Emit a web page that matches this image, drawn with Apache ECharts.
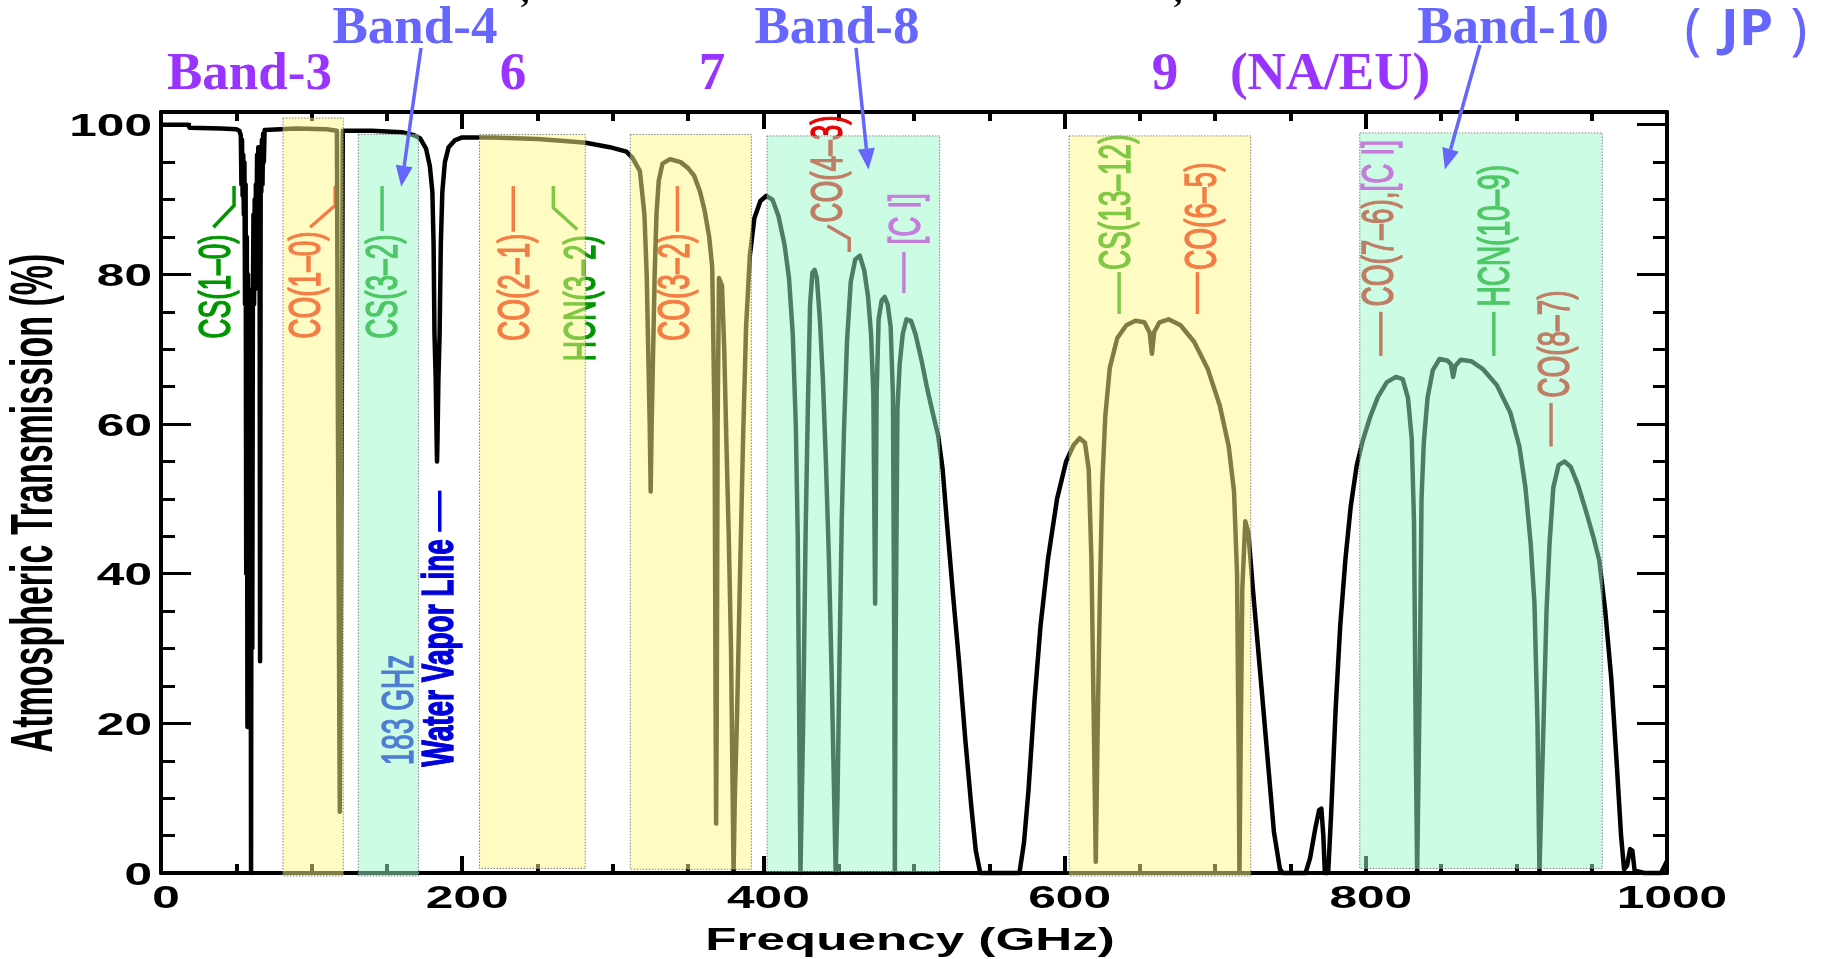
<!DOCTYPE html>
<html>
<head>
<meta charset="utf-8">
<script src="https://cdn.jsdelivr.net/npm/echarts@6/dist/echarts.min.js"></script>
<style>
html,body{margin:0;padding:0;background:#fff;}
#chart{width:1823px;height:959px;}
</style>
</head>
<body>
<div id="chart"></div>
<script>
// Atmospheric transmission at the ALMA site: frequency (GHz) and transmission (%)
const freqGHz = [
  0, 18, 19, 40, 50, 52, 53,
  53.4, 53.8, 54.2, 54.6, 55.0, 55.4, 55.8, 56.2, 56.6, 57.0, 57.4, 57.8, 58.2, 58.6, 59.0, 59.4,
  59.8, 60.2, 60.6, 61.0, 61.4, 61.8, 62.2, 62.6, 63.0, 63.4, 63.8, 64.2, 64.6, 65.0, 65.4, 65.8,
  66.2, 66.6, 67.0, 67.4, 67.8, 68.3, 68.8,
  70, 90, 110, 116.8, 117.5, 118.3, 118.75, 119.2, 120, 120.7, 140, 160, 168, 172, 176, 178.5,
  180.2, 181, 181.6, 182.4, 183.0, 183.3, 183.6, 184.2, 185, 185.8, 186.8, 188.5, 191, 195, 200,
  220, 250, 270, 282, 298, 309, 313, 318, 321, 322.5, 323.5, 324.5, 325.15, 325.8, 326.8, 327.8,
  329, 330.5, 333,
  338, 345, 350, 354, 358, 361, 364, 366, 367.6, 368.3, 368.6, 369, 369.6, 370.5, 372.5, 374,
  375.5, 377, 378.5, 379.5, 380.2, 381, 382.5, 384.5, 386.5, 388.5, 391, 394, 398, 402, 406, 410,
  414, 417, 419.5, 421.5, 422.8, 423.8, 424.6, 425.4, 426.4, 428, 429.5, 431, 432.5, 434, 435.5,
  437.5, 439.5, 441.5, 443.5, 445.5, 447, 448, 449.2, 450.5, 452, 453.5, 455.5, 458, 461, 464,
  467, 469.5, 471.5, 473, 474.2, 475.2, 476.5, 478.5, 480.5, 482.5, 484.5, 486, 486.9, 487.3,
  487.8, 489, 490.5, 492.5, 495, 498, 501, 505, 509, 513, 516, 519, 522, 526, 530, 534, 538, 541,
  544, 570, 573, 576, 580, 584, 589, 595, 601, 606, 610, 613.5, 616, 617.8, 619.4, 620.7, 622,
  623.5, 625, 627, 630, 635, 641, 647, 653, 656.5, 658, 659.5, 663, 669, 677, 686, 695, 703, 709,
  712.5, 714.5, 715.6, 716.1, 716.8, 718, 720, 722, 725, 730, 734.5, 739, 743, 745, 760, 763,
  766.5, 769, 770.5, 771.8, 772.8, 775, 777, 780, 783, 786.5, 790, 794, 798, 803, 808, 814, 820,
  824.5, 828, 830.5, 832, 833.3, 834.1, 834.9, 835.8, 837, 838.5, 841, 844.5, 849, 854, 856.5,
  858, 859.5, 863, 870, 878, 887, 896, 902, 906, 909.5, 912, 914, 915.3, 916.5, 918, 920, 922,
  924.5, 928, 932, 936, 941, 946, 951, 955, 959, 963, 966.5, 969.5, 971.5, 973.5, 975.5, 977,
  978.5, 985, 996, 1000
];
const transmission = [
  100, 100, 99.6, 99.5, 99.4, 99.2, 98.6,
  92, 98, 90.5, 96, 88, 95, 76, 92, 40, 85, 19.5, 80, 19.5, 78, 19.5, 76,
  0, 76, 30, 76, 88, 76, 90, 78, 92, 85, 96, 90, 97, 91, 97, 28.3,
  96, 91, 98, 92, 98.8, 95, 99.3,
  99.5, 99.5, 99.4, 99.2, 60, 25, 8.2, 25, 60, 99.2, 99.2, 99.0, 98.6, 98.2, 96.8, 94.5,
  91, 84, 72, 66, 58, 55, 58, 66, 72, 84, 91, 95, 97, 97.9, 98.3,
  98.3, 98.1, 97.8, 97.6, 97.0, 96.4, 95.6, 93.8, 88, 80, 70, 60, 51, 60, 70, 80,
  88, 92.5, 94.8,
  95.4, 95, 94.2, 93.2, 91, 88.5, 85, 81, 60, 20, 6.6, 20, 60, 79.5, 78.5, 70,
  57, 45, 30, 12, 0, 10, 21, 40, 58, 73, 82.5, 87.5, 89.8, 90.5, 90, 87.8,
  84, 79.5, 72, 60, 45, 20, 0, 0, 20, 45, 62, 76, 80.2, 80.6, 79.5,
  74, 66, 55, 42, 25, 10, 0, 10, 28, 47, 59, 71, 79, 82, 82.5,
  80.5, 77, 72, 64, 36, 64, 74, 76.5, 77, 76, 73, 64, 30, 0,
  30, 62, 68, 72, 74, 73.8, 72, 68.5, 64.5, 61, 58.5, 54, 46.5, 37, 28, 18, 9, 3,
  0, 0, 4, 11, 23, 33, 42, 50, 55, 57.2, 58.1, 57.5, 54, 42, 20, 1.5, 20,
  38, 52, 61, 67.5, 71.5, 73.2, 73.8, 73.6, 72.2, 69.4, 72.3, 73.6, 74, 73.2, 71, 67.4, 62.5, 57,
  51, 40, 15, 0, 15, 38, 47, 45.5, 38, 26.5, 16, 5.5, 0.5, 0, 0, 2,
  6, 8.4, 8.6, 5, 0, 0, 8, 22, 33, 42, 49, 54.5, 57.8, 61, 63.6, 65.6, 66.3,
  66, 63.5, 58, 47, 15, 0, 0, 25, 50, 57.5, 63.5, 67.2, 68.7, 68.5, 68,
  66.3, 67.8, 68.6, 68.4, 67.3, 65.2, 61.5, 57, 51.5, 44, 36, 20, 0, 0, 20, 35, 44,
  51.5, 54.5, 55, 54.3, 51.8, 48.5, 45, 41.8, 35, 26, 15, 5, 0.5, 1, 3.2, 3,
  0.3, 0, 0, 1.6
];

// Axis tick labels
const xTickValues = [0, 200, 400, 600, 800, 1000];
const xTickLabels = ['0', '200', '400', '600', '800', '1000'];
const yTickValues = [0, 20, 40, 60, 80, 100];
const yTickLabels = ['0', '20', '40', '60', '80', '100'];

// ALMA receiver band windows (GHz) and the extent of their shading (%)
const bandStartGHz = [81, 131, 211.5, 311.6, 402.4, 603, 796];
const bandEndGHz   = [121, 171, 281.7, 392, 517, 723.6, 957];
const bandTopPct   = [100.9, 98.7, 98.7, 98.7, 98.5, 98.5, 98.9];
const bandLowPct   = [-0.4, -0.4, 0.6, 0.5, 0.2, -0.4, 0.6];
const bandShade    = ['yellow', 'mint', 'yellow', 'yellow', 'mint', 'yellow', 'mint'];

// Spectral line annotations
const lineLabelText = ['CS(1–0)', 'CO(1–0)', 'CS(3–2)', '183 GHz', 'Water Vapor Line', 'CO(2–1)',
  'HCN(3–2)', 'CO(3–2)', 'CO(4–3)', '[C I]', 'CS(13–12)', 'CO(6–5)', 'CO(7–6),', 'HCN(10–9)', 'CO(8–7)'];
const lineLabelInk = ['cs', 'co', 'cs', 'h2o', 'h2o', 'co', 'cs', 'co', 'co', 'ci', 'cs', 'co', 'co', 'cs', 'co'];

const INK = { cs: '#009600', co: '#e60000', ci: '#ee00ee', h2o: '#0000dd' };
const SHADE = { yellow: 'rgba(255,249,135,0.5)', mint: 'rgba(153,249,201,0.5)' };
const SANS = '"Liberation Sans", Arial, Helvetica, sans-serif';
const SERIF = '"Liberation Serif", "Times New Roman", Times, serif';
const BAND_PURPLE = '#9933ff';
const BAND_BLUE = '#6666ff';

// Placement of each annotation: where the text starts [GHz, %] and its leader line
const lineLabelLayout = [
  { at: [37.9, 71.4], lead: [[34.8, 86.3], [48.5, 89.2], [48.5, 91.8]] },
  { at: [97.3, 71.4], lead: [[99.0, 86.3], [115.6, 89.2], [115.6, 91.8]] },
  { at: [148.2, 71.4], lead: [[146.8, 85.8], [146.8, 91.8]] },
  { at: [158.8, 14.4], lead: null },
  { at: [185.4, 14.2], lead: [[185.1, 45.6], [185.1, 51.1]], bold: true },
  { at: [235.9, 71.1], lead: [[233.9, 85.7], [233.9, 91.8]] },
  { at: [279.7, 68.4], lead: [[276.4, 86.0], [260.5, 88.9], [260.5, 91.8]] },
  { at: [342.2, 71.1], lead: [[342.9, 85.7], [342.9, 91.8]] },
  { at: [443.9, 86.9], lead: [[442.5, 86.5], [457.0, 84.8], [457.0, 83.0]] },
  { at: [495.7, 84.0], lead: [[493.3, 83.0], [493.3, 77.5]] },
  { at: [635.2, 80.6], lead: [[636.2, 80.3], [636.2, 74.7]] },
  { at: [692.4, 80.6], lead: [[688.2, 80.3], [688.2, 74.7]] },
  { at: [810.0, 75.7], lead: [[810.0, 75.0], [810.0, 69.1]], tail: '[C I]' },
  { at: [887.0, 75.7], lead: [[885.0, 75.0], [885.0, 69.1]] },
  { at: [926.9, 63.5], lead: [[923.0, 62.8], [923.0, 57.0]] }
];

function xAxisDef(pos) {
  return {
    type: 'value', position: pos, min: 0, max: 1000, interval: 200,
    axisLine: { show: true, onZero: false, lineStyle: { color: '#000', width: 4 } },
    axisTick: { show: true, inside: true, length: 17, lineStyle: { color: '#000', width: 4 } },
    minorTick: { show: true, splitNumber: 4, length: 9, lineStyle: { color: '#000', width: 4 } },
    axisLabel: { show: false }, splitLine: { show: false }, minorSplitLine: { show: false }
  };
}
function yAxisDef(pos, step, len, showLine) {
  return {
    type: 'value', position: pos, min: 0, max: 101.7, interval: step,
    axisLine: { show: showLine, onZero: false, lineStyle: { color: '#000', width: 4 } },
    axisTick: { show: true, inside: true, length: len, lineStyle: { color: '#000', width: 3 } },
    axisLabel: { show: false }, splitLine: { show: false }
  };
}

const chart = echarts.init(document.getElementById('chart'));
chart.setOption({
  animation: false,
  backgroundColor: '#fff',
  grid: { left: 161, right: 156, top: 112, bottom: 86, containLabel: false },
  xAxis: [xAxisDef('bottom'), xAxisDef('top')],
  yAxis: [yAxisDef('left', 5, 14, true), yAxisDef('left', 20, 30, false),
          yAxisDef('right', 5, 14, true), yAxisDef('right', 20, 30, false)],
  series: [
    {
      type: 'line', xAxisIndex: 0, yAxisIndex: 0, z: 2, clip: false,
      data: freqGHz.map((f, i) => [f, transmission[i]]),
      symbol: 'none', silent: true,
      lineStyle: { color: '#000', width: 4.5, join: 'round' }
    },
    {
      type: 'custom', xAxisIndex: 0, yAxisIndex: 0, z: 3, clip: false, silent: true,
      data: bandStartGHz.map((s, i) => [s, bandEndGHz[i], bandTopPct[i], bandLowPct[i], i]),
      encode: { x: [0, 1], y: [2, 3] },
      renderItem: function (params, api) {
        const a = api.coord([api.value(0), api.value(2)]);
        const b = api.coord([api.value(1), api.value(3)]);
        return {
          type: 'rect',
          shape: { x: a[0], y: a[1], width: b[0] - a[0], height: b[1] - a[1] },
          style: { fill: SHADE[bandShade[api.value(4)]], stroke: '#808080', lineWidth: 1, lineDash: [1.5, 1.5] }
        };
      }
    }
  ]
});

const px = (g, v) => chart.convertToPixel({ xAxisIndex: 0, yAxisIndex: 0 }, [g, v]);
const els = [];

// Tick labels and axis titles
xTickValues.forEach((v, i) => {
  const p = px(v, 0);
  els.push({ type: 'text', x: p[0] + 5, y: 899, scaleX: 1.6, z: 5, silent: true,
    style: { text: xTickLabels[i], font: 'bold 31px ' + SANS, fill: '#000', align: 'center', verticalAlign: 'middle' } });
});
yTickValues.forEach((v, i) => {
  const p = px(0, v);
  els.push({ type: 'text', x: 152, y: p[1] + 3, scaleX: 1.6, z: 5, silent: true,
    style: { text: yTickLabels[i], font: 'bold 31px ' + SANS, fill: '#000', align: 'right', verticalAlign: 'middle' } });
});
els.push({ type: 'text', x: 910, y: 941, scaleX: 1.6, z: 5, silent: true,
  style: { text: 'Frequency (GHz)', font: 'bold 32px ' + SANS, fill: '#000', align: 'center', verticalAlign: 'middle' } });
els.push({ type: 'text', x: 36, y: 503, rotation: Math.PI / 2, scaleY: 1.75, z: 5, silent: true,
  style: { text: 'Atmospheric Transmission (%)', font: 'bold 34px ' + SANS, fill: '#000', align: 'center', verticalAlign: 'middle' } });

// Spectral line labels (under the band shading)
lineLabelText.forEach((t, i) => {
  const L = lineLabelLayout[i];
  const ink = INK[lineLabelInk[i]];
  const p = px(L.at[0], L.at[1]);
  const weight = L.bold ? 'bold' : 'normal';
  const style = { fill: ink, stroke: ink, lineWidth: 0.9, fontFamily: SANS, fontSize: 28, fontWeight: weight,
    align: 'left', verticalAlign: 'middle' };
  if (L.tail) {
    style.text = '{a|' + t + '}{b|' + L.tail + '}';
    style.rich = {
      a: { fill: ink, stroke: ink, lineWidth: 0.9, fontFamily: SANS, fontSize: 28, fontWeight: weight },
      b: { fill: INK.ci, stroke: INK.ci, lineWidth: 0.9, fontFamily: SANS, fontSize: 28, fontWeight: weight }
    };
  } else {
    style.text = t;
  }
  els.push({ type: 'text', x: p[0], y: p[1], rotation: Math.PI / 2, scaleY: 1.6, z: 1, silent: true, style });
  if (L.lead) {
    els.push({ type: 'polyline', z: 1, silent: true,
      shape: { points: L.lead.map(q => px(q[0], q[1])) },
      style: { stroke: ink, lineWidth: 3.5, fill: null } });
  }
});

// Receiver band names across the top
const bandTitles = [
  { t: 'Band-3', x: 249.5, y: 75, c: BAND_PURPLE },
  { t: 'Band-4', x: 415, y: 29, c: BAND_BLUE },
  { t: '6', x: 513, y: 75, c: BAND_PURPLE },
  { t: '7', x: 712, y: 75, c: BAND_PURPLE },
  { t: 'Band-8', x: 837, y: 29, c: BAND_BLUE },
  { t: '9', x: 1165, y: 75, c: BAND_PURPLE },
  { t: '(NA/EU)', x: 1330, y: 75, c: BAND_PURPLE },
  { t: 'Band-10', x: 1513, y: 29, c: BAND_BLUE }
];
bandTitles.forEach(b => {
  els.push({ type: 'text', x: b.x, y: b.y, z: 10, silent: true,
    style: { text: b.t, font: 'bold 53px ' + SERIF, fill: b.c, align: 'center', verticalAlign: 'middle' } });
});
// "(JP)" with thin, widely spaced brackets
els.push({ type: 'text', x: 1693, y: 33, z: 10, silent: true,
  style: { text: '(', font: '56px "Noto Sans", sans-serif', fill: BAND_BLUE, align: 'center', verticalAlign: 'middle' } });
els.push({ type: 'text', x: 1747, y: 31, scaleX: 1.1, z: 10, silent: true,
  style: { text: 'JP', font: 'bold 50px "Noto Sans", sans-serif', fill: BAND_BLUE, align: 'center', verticalAlign: 'middle' } });
els.push({ type: 'text', x: 1799, y: 33, z: 10, silent: true,
  style: { text: ')', font: '56px "Noto Sans", sans-serif', fill: BAND_BLUE, align: 'center', verticalAlign: 'middle' } });

// Arrows from the band names down into their windows
const arrows = [
  { from: [421, 48], tip: [159.5, 91.7] },
  { from: [856, 48], tip: [469.8, 94.0] },
  { from: [1480, 45], tip: [852.5, 94.0] }
];
arrows.forEach(a => {
  const tip = px(a.tip[0], a.tip[1]);
  const dx = tip[0] - a.from[0], dy = tip[1] - a.from[1];
  const len = Math.hypot(dx, dy), ux = dx / len, uy = dy / len;
  const head = 21, half = 8.5;
  const base = [tip[0] - ux * head, tip[1] - uy * head];
  els.push({ type: 'line', z: 10, silent: true,
    shape: { x1: a.from[0], y1: a.from[1], x2: base[0], y2: base[1] },
    style: { stroke: BAND_BLUE, lineWidth: 3.5 } });
  els.push({ type: 'polygon', z: 10, silent: true,
    shape: { points: [tip, [base[0] - uy * half, base[1] + ux * half], [base[0] + uy * half, base[1] - ux * half]] },
    style: { fill: BAND_BLUE } });
});

// Clipped punctuation from the heading above the frame
[[525, 10], [1178, 10]].forEach(q => {
  els.push({ type: 'text', x: q[0], y: q[1], z: 10, silent: true,
    style: { text: ',', font: 'bold 34px ' + SERIF, fill: '#000', align: 'center', verticalAlign: 'bottom' } });
});

chart.setOption({ graphic: { elements: els } });
</script>
</body>
</html>
